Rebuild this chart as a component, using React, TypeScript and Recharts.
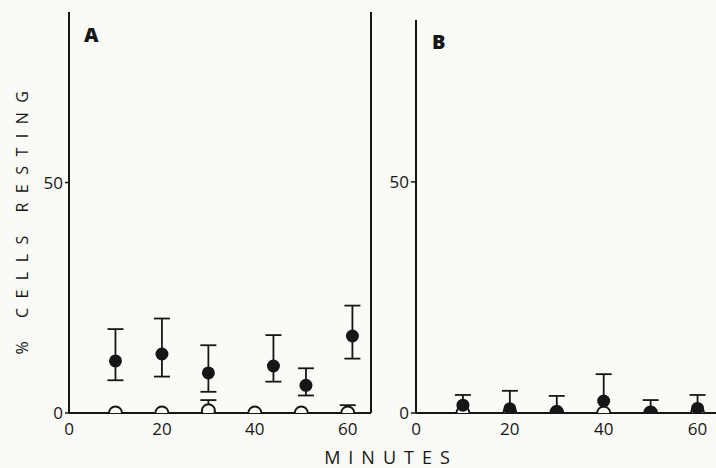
import React from 'react';
import { ScatterChart, Scatter, XAxis, YAxis, ErrorBar } from 'recharts';

const INK = '#161616';
const BG = '#fafaf7';
const FONT = '"Open Sans", "DejaVu Sans", sans-serif';

const xTicks = [0, 20, 40, 60];
const yTicks = [0, 50];
const rightTicks = [50];

// Panel A — filled circles
const aFilledX = [10, 20, 30, 44, 51, 61];
const aFilledY = [11.3, 12.8, 8.7, 10.2, 6.0, 16.7];
const aFilledLow = [4.2, 4.9, 4.1, 3.4, 2.2, 4.9];
const aFilledHigh = [6.9, 7.7, 6.0, 6.7, 3.7, 6.6];

// Panel A — open circles
const aOpenX = [10, 20, 30, 40, 50, 60];
const aOpenY = [0, 0, 0.5, 0, 0, 0];
const aOpenHigh: (number | null)[] = [null, null, 2.3, null, null, 1.7];

// Panel B — filled circles
const bFilledX = [10, 20, 30, 40, 50, 60];
const bFilledY = [1.7, 0.9, 0.4, 2.6, 0.0, 1.0];
const bFilledHigh = [2.2, 3.9, 3.3, 5.8, 2.8, 2.9];

// Panel B — open circles
const bOpenX = [10, 20, 30, 40, 50, 60];
const bOpenY = [0, 0, 0, 0, 0, 0];

const aFilled = aFilledX.map((x, i) => ({ x, y: aFilledY[i], err: [aFilledLow[i], aFilledHigh[i]] }));
const aOpen = aOpenX.map((x, i) => ({ x, y: aOpenY[i], err: aOpenHigh[i] == null ? null : [aOpenY[i], aOpenHigh[i]] }));
const bFilled = bFilledX.map((x, i) => ({ x, y: bFilledY[i], err: [bFilledY[i], bFilledHigh[i]] }));
const bOpen = bOpenX.map((x, i) => ({ x, y: bOpenY[i] }));

const R = 6.5;

// dots are clipped at the x axis (plot bottom), like the original figure
const makeDot = (id: string, bottom: number, filled: boolean) => (p: any) => {
  const key = `${id}-${p.index ?? Math.round(p.cx)}`;
  const top = p.cy - 12;
  return (
    <g>
      <defs>
        <clipPath id={key}>
          <rect x={p.cx - 12} y={top} width={24} height={Math.max(0, bottom - top)} />
        </clipPath>
      </defs>
      <circle
        cx={p.cx}
        cy={p.cy}
        r={R}
        fill={filled ? INK : BG}
        stroke={filled ? 'none' : INK}
        strokeWidth={filled ? 0 : 2}
        clipPath={`url(#${key})`}
      />
    </g>
  );
};

const tickStyle = { fontSize: 17, fill: INK, fontFamily: FONT };
const axisLine = { stroke: INK, strokeWidth: 2 };

function Panel(props: {
  id: string;
  filled: any[];
  open: any[];
  yMax: number;
  margin: any;
  width: number;
  yTickSize: number;
  yTickMargin: number;
}) {
  const { id, filled, open, yMax, margin, width, yTickSize, yTickMargin } = props;
  const bottom = 468 - margin.bottom - 1;
  return (
    <ScatterChart width={width} height={468} margin={margin}>
      <XAxis
        type="number"
        dataKey="x"
        domain={[0, 65]}
        ticks={xTicks}
        height={1}
        tickLine={false}
        tickSize={0}
        tickMargin={10}
        axisLine={axisLine}
        tick={tickStyle}
      />
      <YAxis
        type="number"
        dataKey="y"
        domain={[0, yMax]}
        ticks={yTicks}
        width={1}
        tickSize={yTickSize}
        tickMargin={yTickMargin}
        tickLine={{ stroke: INK, strokeWidth: 1.5 }}
        axisLine={axisLine}
        tick={tickStyle}
      />
      <YAxis
        yAxisId="r"
        orientation="right"
        type="number"
        domain={[0, yMax]}
        ticks={rightTicks}
        width={1}
        mirror
        tickSize={5}
        tickLine={{ stroke: INK, strokeWidth: 1.5 }}
        axisLine={axisLine}
        tick={() => <g />}
      />
      <Scatter data={open} dataKey="y" shape={makeDot(`${id}o`, bottom, false)} isAnimationActive={false}>
        <ErrorBar dataKey="err" direction="y" width={8} stroke={INK} strokeWidth={1.8} isAnimationActive={false} />
      </Scatter>
      <Scatter data={filled} dataKey="y" shape={makeDot(`${id}f`, bottom, true)} isAnimationActive={false}>
        <ErrorBar dataKey="err" direction="y" width={8} stroke={INK} strokeWidth={1.8} isAnimationActive={false} />
      </Scatter>
    </ScatterChart>
  );
}

export default function App() {
  return (
    <div
      style={{
        position: 'absolute',
        left: 0,
        top: 0,
        width: 716,
        height: 468,
        overflow: 'hidden',
        background: BG,
      }}
    >
      <div style={{ position: 'absolute', left: 0, top: 0 }}>
        <Panel
          id="pa"
          filled={aFilled}
          open={aOpen}
          yMax={87}
          width={380}
          margin={{ top: 12, right: 9, bottom: 54, left: 68 }}
          yTickSize={4}
          yTickMargin={2}
        />
      </div>
      <div style={{ position: 'absolute', left: 380, top: 0 }}>
        <Panel
          id="pb"
          filled={bFilled}
          open={bOpen}
          yMax={85}
          width={350}
          margin={{ top: 20, right: 9, bottom: 54, left: 35 }}
          yTickSize={5}
          yTickMargin={2}
        />
      </div>
      <svg
        width={716}
        height={468}
        style={{ position: 'absolute', left: 0, top: 0, pointerEvents: 'none' }}
      >
        <text x={84} y={42} fontSize={20} fontWeight={800} fill={INK} fontFamily={FONT}>
          A
        </text>
        <text x={432} y={49} fontSize={20} fontWeight={800} fill={INK} fontFamily={FONT}>
          B
        </text>
        <text
          x={28}
          y={218}
          transform="rotate(-90 28 218)"
          textAnchor="middle"
          fontSize={16}
          letterSpacing={9.5}
          fill={INK}
          fontFamily={FONT}
        >
          % CELLS RESTING
        </text>
        <text
          x={391}
          y={464}
          textAnchor="middle"
          fontSize={18}
          letterSpacing={8}
          fill={INK}
          fontFamily={FONT}
        >
          MINUTES
        </text>
      </svg>
    </div>
  );
}
